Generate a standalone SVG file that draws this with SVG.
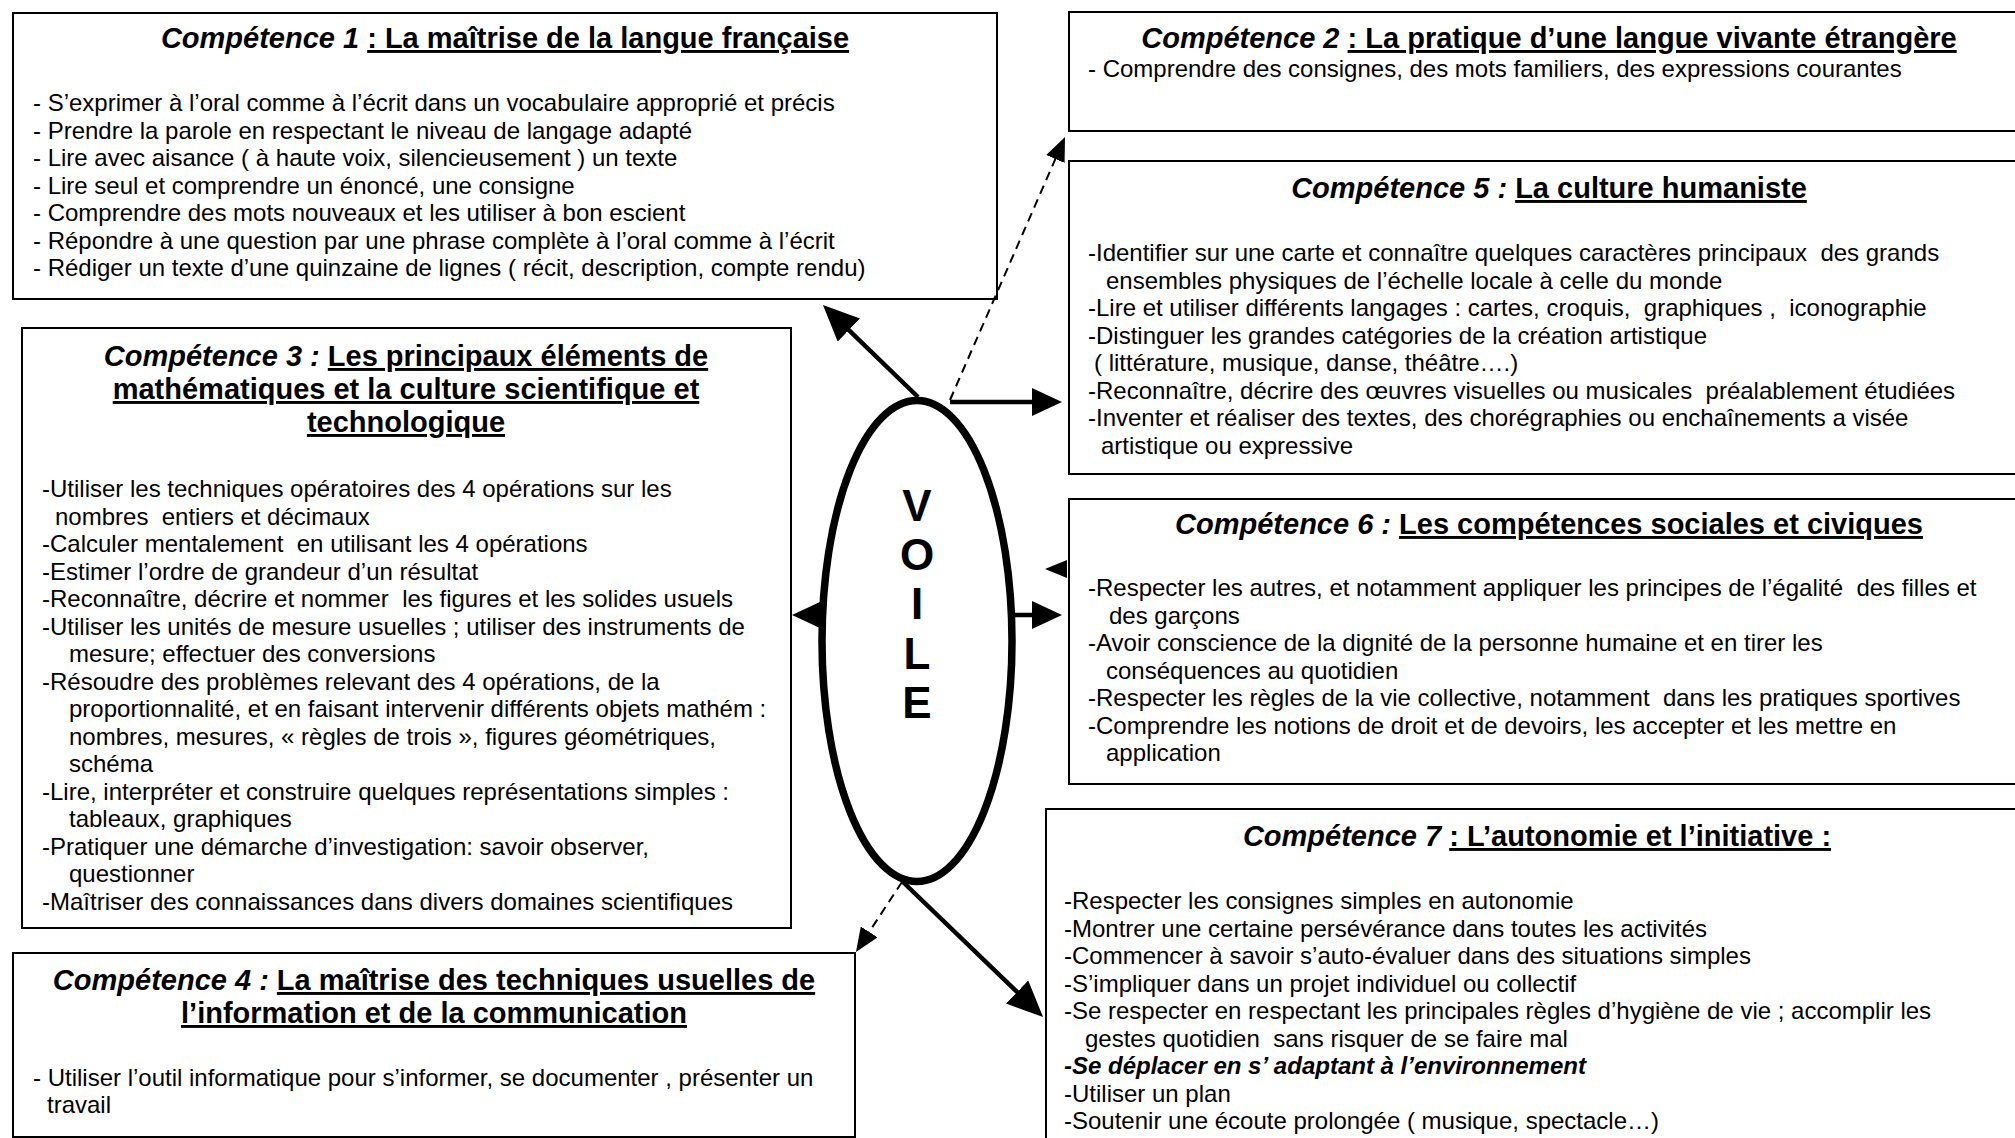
<svg xmlns="http://www.w3.org/2000/svg" width="2015" height="1138" viewBox="0 0 2015 1138">
<style>
text{font-family:"Liberation Sans",Arial,Helvetica,sans-serif;fill:#000}
.box{fill:#fff;stroke:#000;stroke-width:2}
.t{font-size:29px;font-weight:bold;text-anchor:middle}
.it{font-style:italic}
.ul{text-decoration:underline}
.b{font-size:24px}
.bi{font-size:24px;font-weight:bold;font-style:italic}
.v{font-size:44px;font-weight:bold;text-anchor:middle}
.thick{stroke:#000;stroke-width:4.5;fill:none}
.dash{stroke:#000;stroke-width:2;stroke-dasharray:9 6;fill:none}
.head{fill:#000}
</style>
<defs>
<marker id="ah" markerUnits="userSpaceOnUse" viewBox="0 0 36 32" markerWidth="36" markerHeight="32" refX="24" refY="16" orient="auto"><path d="M0,0 L36,16 L0,32 z" fill="#000"/></marker>
<marker id="ahh" markerUnits="userSpaceOnUse" viewBox="0 0 30 28" markerWidth="30" markerHeight="28" refX="20" refY="14" orient="auto"><path d="M0,0 L30,14 L0,28 z" fill="#000"/></marker>
<marker id="ahd" markerUnits="userSpaceOnUse" viewBox="0 0 24 20" markerWidth="24" markerHeight="20" refX="16" refY="10" orient="auto"><path d="M0,0 L24,10 L0,20 z" fill="#000"/></marker>
</defs>
<rect width="2015" height="1138" fill="#fff"/>

<g id="competence1">
<rect class="box" x="13" y="13" width="984" height="286"/>
<text class="t" x="505" y="48"><tspan class="it">Compétence 1 </tspan><tspan class="ul">: La maîtrise de la langue française</tspan></text>
<text class="b" x="33" y="111">- S’exprimer à l’oral comme à l’écrit dans un vocabulaire approprié et précis</text>
<text class="b" x="33" y="138.5">- Prendre la parole en respectant le niveau de langage adapté</text>
<text class="b" x="33" y="166">- Lire avec aisance ( à haute voix, silencieusement ) un texte</text>
<text class="b" x="33" y="193.5">- Lire seul et comprendre un énoncé, une consigne</text>
<text class="b" x="33" y="221">- Comprendre des mots nouveaux et les utiliser à bon escient</text>
<text class="b" x="33" y="248.5">- Répondre à une question par une phrase complète à l’oral comme à l’écrit</text>
<text class="b" x="33" y="276">- Rédiger un texte d’une quinzaine de lignes ( récit, description, compte rendu)</text>
</g>

<g id="competence2">
<rect class="box" x="1069" y="12" width="960" height="119"/>
<text class="t" x="1549" y="48"><tspan class="it">Compétence 2 </tspan><tspan class="ul">: La pratique d’une langue vivante étrangère</tspan></text>
<text class="b" x="1088" y="77">- Comprendre des consignes, des mots familiers, des expressions courantes</text>
</g>

<g id="competence5">
<rect class="box" x="1069" y="161" width="960" height="313"/>
<text class="t" x="1549" y="198"><tspan class="it">Compétence 5 : </tspan><tspan class="ul">La culture humaniste</tspan></text>
<text class="b" x="1088" y="261" xml:space="preserve">-Identifier sur une carte et connaître quelques caractères principaux  des grands</text>
<text class="b" x="1106" y="288.5">ensembles physiques de l’échelle locale à celle du monde</text>
<text class="b" x="1088" y="316" xml:space="preserve">-Lire et utiliser différents langages : cartes, croquis,  graphiques ,  iconographie</text>
<text class="b" x="1088" y="343.5">-Distinguer les grandes catégories de la création artistique</text>
<text class="b" x="1094" y="371">( littérature, musique, danse, théâtre….)</text>
<text class="b" x="1088" y="398.5" xml:space="preserve">-Reconnaître, décrire des œuvres visuelles ou musicales  préalablement étudiées</text>
<text class="b" x="1088" y="426">-Inventer et réaliser des textes, des chorégraphies ou enchaînements a visée</text>
<text class="b" x="1101" y="453.5">artistique ou expressive</text>
</g>

<g id="competence3">
<rect class="box" x="22" y="328" width="769" height="600"/>
<text class="t" x="406" y="366"><tspan class="it">Compétence 3 : </tspan><tspan class="ul">Les principaux éléments de</tspan></text>
<text class="t ul" x="406" y="399">mathématiques et la culture scientifique et</text>
<text class="t ul" x="406" y="432">technologique</text>
<text class="b" x="42" y="497">-Utiliser les techniques opératoires des 4 opérations sur les</text>
<text class="b" x="55" y="524.5" xml:space="preserve">nombres  entiers et décimaux</text>
<text class="b" x="42" y="552" xml:space="preserve">-Calculer mentalement  en utilisant les 4 opérations</text>
<text class="b" x="42" y="579.5">-Estimer l’ordre de grandeur d’un résultat</text>
<text class="b" x="42" y="607" xml:space="preserve">-Reconnaître, décrire et nommer  les figures et les solides usuels</text>
<text class="b" x="42" y="634.5">-Utiliser les unités de mesure usuelles ; utiliser des instruments de</text>
<text class="b" x="69" y="662">mesure; effectuer des conversions</text>
<text class="b" x="42" y="689.5">-Résoudre des problèmes relevant des 4 opérations, de la</text>
<text class="b" x="69" y="717">proportionnalité, et en faisant intervenir différents objets mathém :</text>
<text class="b" x="69" y="744.5">nombres, mesures, « règles de trois », figures géométriques,</text>
<text class="b" x="69" y="772">schéma</text>
<text class="b" x="42" y="799.5">-Lire, interpréter et construire quelques représentations simples :</text>
<text class="b" x="69" y="827">tableaux, graphiques</text>
<text class="b" x="42" y="854.5">-Pratiquer une démarche d’investigation: savoir observer,</text>
<text class="b" x="69" y="882">questionner</text>
<text class="b" x="42" y="909.5">-Maîtriser des connaissances dans divers domaines scientifiques</text>
</g>

<g id="competence6">
<rect class="box" x="1069" y="499" width="960" height="285"/>
<text class="t" x="1549" y="534"><tspan class="it">Compétence 6 : </tspan><tspan class="ul">Les compétences sociales et civiques</tspan></text>
<text class="b" x="1088" y="596" xml:space="preserve">-Respecter les autres, et notamment appliquer les principes de l’égalité  des filles et</text>
<text class="b" x="1109" y="623.5">des garçons</text>
<text class="b" x="1088" y="651">-Avoir conscience de la dignité de la personne humaine et en tirer les</text>
<text class="b" x="1106" y="678.5">conséquences au quotidien</text>
<text class="b" x="1088" y="706" xml:space="preserve">-Respecter les règles de la vie collective, notamment  dans les pratiques sportives</text>
<text class="b" x="1088" y="733.5">-Comprendre les notions de droit et de devoirs, les accepter et les mettre en</text>
<text class="b" x="1106" y="761">application</text>
</g>

<g id="competence4">
<rect class="box" x="13" y="953" width="842" height="184"/>
<text class="t" x="434" y="990"><tspan class="it">Compétence 4 : </tspan><tspan class="ul">La maîtrise des techniques usuelles de</tspan></text>
<text class="t ul" x="434" y="1023">l’information et de la communication</text>
<text class="b" x="33" y="1086">- Utiliser l’outil informatique pour s’informer, se documenter , présenter un</text>
<text class="b" x="47" y="1113">travail</text>
</g>

<g id="competence7">
<rect class="box" x="1046" y="809" width="982" height="340"/>
<text class="t" x="1537" y="846"><tspan class="it">Compétence 7 </tspan><tspan class="ul">: L’autonomie et l’initiative :</tspan></text>
<text class="b" x="1064" y="909">-Respecter les consignes simples en autonomie</text>
<text class="b" x="1064" y="936.5">-Montrer une certaine persévérance dans toutes les activités</text>
<text class="b" x="1064" y="964">-Commencer à savoir s’auto-évaluer dans des situations simples</text>
<text class="b" x="1064" y="991.5">-S’impliquer dans un projet individuel ou collectif</text>
<text class="b" x="1064" y="1019">-Se respecter en respectant les principales règles d’hygiène de vie ; accomplir les</text>
<text class="b" x="1085" y="1046.5" xml:space="preserve">gestes quotidien  sans risquer de se faire mal</text>
<text class="bi" x="1064" y="1074">-Se déplacer en s’ adaptant à l’environnement</text>
<text class="b" x="1064" y="1101.5">-Utiliser un plan</text>
<text class="b" x="1064" y="1129">-Soutenir une écoute prolongée ( musique, spectacle…)</text>
</g>

<g id="voile">
<ellipse cx="917" cy="641" rx="95" ry="240.5" fill="#fff" stroke="#000" stroke-width="7.5"/>
<text class="v" x="917" y="521">V</text>
<text class="v" x="917" y="570">O</text>
<text class="v" x="917" y="619">I</text>
<text class="v" x="917" y="669">L</text>
<text class="v" x="917" y="718">E</text>
</g>

<g id="connectors">
<line class="thick" x1="918" y1="397" x2="831.6" y2="313.4" marker-end="url(#ah)"/>
<line class="dash" x1="950" y1="400" x2="1061.8" y2="144.3" marker-end="url(#ahd)"/>
<line class="thick" x1="950" y1="402" x2="1052" y2="402" marker-end="url(#ahh)"/>
<polygon class="head" points="792,615 822,601 822,629"/>
<line class="thick" x1="1012" y1="615" x2="1052" y2="615" marker-end="url(#ahh)"/>
<polygon class="head" points="1045,569 1067,560 1067,578"/>
<line class="dash" x1="902" y1="882" x2="860.4" y2="945.3" marker-end="url(#ahd)"/>
<line class="thick" x1="903" y1="882" x2="1034.4" y2="1008.7" marker-end="url(#ah)"/>
</g>
</svg>
